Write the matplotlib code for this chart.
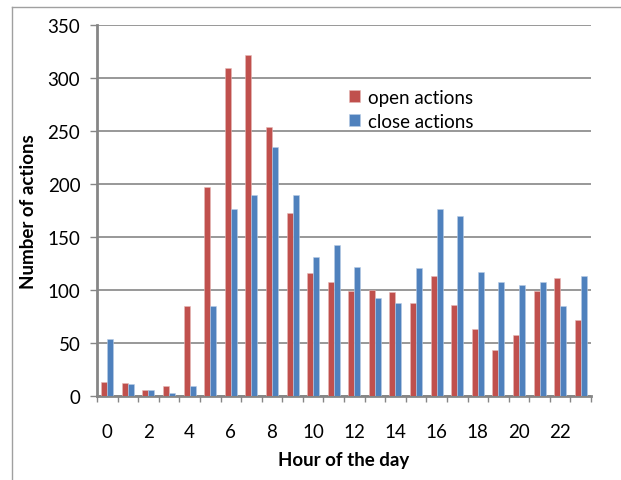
import matplotlib
matplotlib.use("Agg")
import matplotlib.pyplot as plt
from matplotlib.lines import Line2D
import numpy as np

hours = list(range(24))
open_actions = [13.5, 12, 6, 9, 84.6, 196.5, 308.8, 320.8, 253, 172, 115.7, 107,
                99, 100, 98, 88, 113.5, 86, 63, 43.7, 57, 99, 111, 71.4]
close_actions = [54, 11, 6, 2.5, 9, 84.6, 176, 189, 235, 189, 130.5, 142.5,
                 122, 92, 88, 121, 176, 170, 117, 107, 105, 107, 84.6, 113.5]
xtick_labels = [str(h) for h in range(0, 24, 2)]
yticks = list(range(0, 351, 50))

plt.rcParams['font.family'] = ['Lato', 'DejaVu Sans']

W, H = 621, 481
fig = plt.figure(figsize=(W / 100, H / 100), dpi=100)
ax_l, ax_r, ax_t, ax_b = 97, 591, 25.5, 397
ax = fig.add_axes([ax_l / W, 1 - ax_b / H, (ax_r - ax_l) / W, (ax_b - ax_t) / H])

red = '#C0504D'
blue = '#4F81BD'
gray = '#868686'

x = np.arange(len(hours))
w = 0.29
ax.bar(x - w / 2, open_actions, width=w, color=red, label='open actions', zorder=3,
       edgecolor='#E6B9B8', linewidth=0.4)
ax.bar(x + w / 2, close_actions, width=w, color=blue, label='close actions', zorder=3,
       edgecolor='#B9CDE5', linewidth=0.4)

ax.set_xlim(-0.5, 23.5)
ax.set_ylim(0, 350)
ax.set_yticks(yticks)
ax.set_yticklabels([str(v) for v in yticks], fontsize=13.5)
ax.set_xticks(list(range(0, 24, 2)))
ax.set_xticklabels(xtick_labels, fontsize=13.5)
ax.set_xticks(np.arange(-0.5, 24, 1), minor=True)
ax.tick_params(axis='x', which='major', length=0, pad=19.5)
ax.tick_params(axis='x', which='minor', length=4.5, width=1, color=gray, direction='out')
ax.tick_params(axis='y', length=5, width=1, color=gray, direction='out', pad=7)

ax.yaxis.grid(True, color=gray, linewidth=1.2, zorder=0)
ax.set_axisbelow(True)
for side in ['top', 'right']:
    ax.spines[side].set_visible(False)
for side in ['left', 'bottom']:
    ax.spines[side].set_color(gray)
    ax.spines[side].set_linewidth(2)

pw, ph = ax_r - ax_l, ax_b - ax_t
ax.set_xlabel('Hour of the day', fontsize=13.5, fontweight='bold', va='top')
ax.xaxis.set_label_coords(0.5, -(452 - ax_b) / ph)
ax.set_ylabel('Number of actions', fontsize=13.5, fontweight='bold')
ax.yaxis.set_label_coords((37 - ax_l) / pw, 0.5)

leg = ax.legend(loc='upper left',
                bbox_to_anchor=((349 - ax_l) / pw, (ax_b - 90) / ph),
                frameon=False, fontsize=13.5, handlelength=0.6, handleheight=0.6,
                handletextpad=0.4, labelspacing=0.36, borderaxespad=0, borderpad=0)

# outer chart border (top and left)
fig.add_artist(Line2D([12 / W, 1], [1 - 7.5 / H, 1 - 7.5 / H], transform=fig.transFigure,
                      color='#A0A0A0', linewidth=1))
fig.add_artist(Line2D([12 / W, 12 / W], [0, 1 - 7.5 / H], transform=fig.transFigure,
                      color='#A0A0A0', linewidth=1))

fig.savefig('out.png', dpi=100)
